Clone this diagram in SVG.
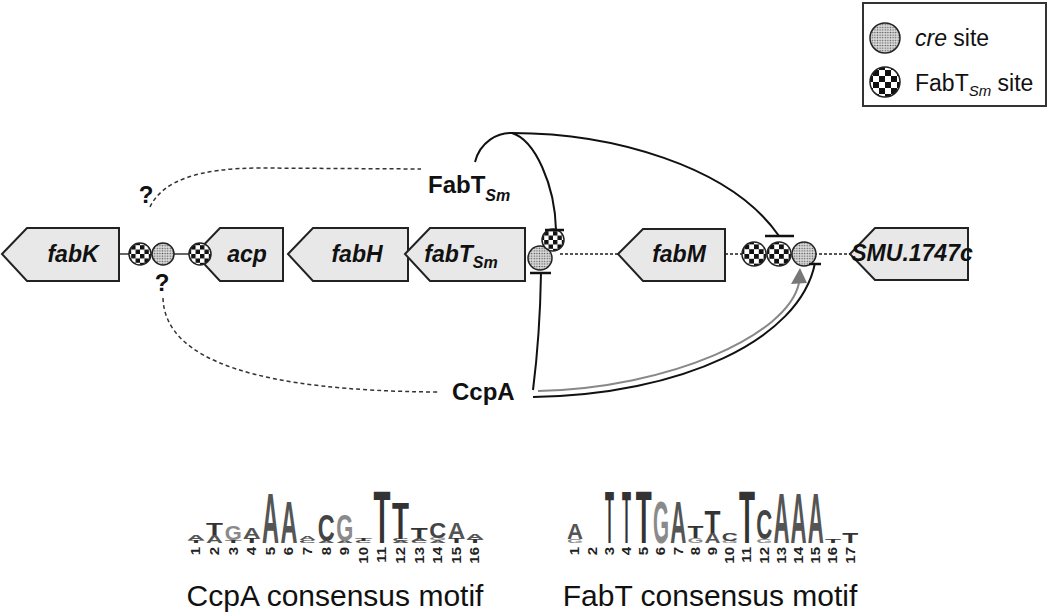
<svg xmlns="http://www.w3.org/2000/svg" width="1050" height="613" viewBox="0 0 1050 613">
<style>
.gene{fill:#e8e8e8;stroke:#222;stroke-width:2}
.gl{font-family:"Liberation Sans",Arial,sans-serif;font-weight:bold;font-style:italic;font-size:23px;fill:#111;text-anchor:middle}
.lab{font-family:"Liberation Sans",Arial,sans-serif;font-weight:bold;font-size:24px;fill:#111}
.leg{font-family:"Liberation Sans",Arial,sans-serif;font-size:23px;fill:#111}
.cap{font-family:"Liberation Sans",Arial,sans-serif;font-size:30px;fill:#111;text-anchor:middle}
.cre{fill:url(#dots);stroke:#222;stroke-width:1.5}
.fbt{fill:url(#chk);stroke:#222;stroke-width:1.5}
.dash{fill:none;stroke:#333;stroke-width:1.5;stroke-dasharray:4 3}
.row{fill:none;stroke:#555;stroke-width:2;stroke-dasharray:3 2}
.blk{fill:none;stroke:#111;stroke-width:2}
.bar{stroke:#111;stroke-width:2.5}
.lg{font-family:"Liberation Sans",Arial,sans-serif;font-weight:bold;font-size:10px;text-anchor:middle}
.A{fill:#555}.C{fill:#444}.G{fill:#8a8a8a}.T{fill:#333}
.num{font-family:"Liberation Sans",Arial,sans-serif;font-weight:bold;font-size:12px;text-anchor:end;fill:#222}
</style>
<defs>
<pattern id="chk" patternUnits="objectBoundingBox" patternContentUnits="objectBoundingBox" x="0.1" y="0.1" width="0.4" height="0.4">
<rect width="0.4" height="0.4" fill="#fff"/>
<rect width="0.2" height="0.2" fill="#111"/>
<rect x="0.2" y="0.2" width="0.2" height="0.2" fill="#111"/>
</pattern>
<pattern id="dots" patternUnits="userSpaceOnUse" width="2.6" height="2.6">
<rect width="2.6" height="2.6" fill="#dcdcdc"/>
<circle cx="1.3" cy="1.3" r="0.75" fill="#555"/>
</pattern>
</defs>

<g id="legend">
<rect x="863" y="3" width="183" height="103" fill="#fff" stroke="#333" stroke-width="2"/>
<circle class="cre" cx="885" cy="38" r="15"/>
<circle class="fbt" cx="885" cy="82" r="15"/>
<text class="leg" x="915" y="46"><tspan font-style="italic">cre</tspan> site</text>
<text class="leg" x="915" y="91">FabT<tspan font-style="italic" font-size="15" dy="5">Sm</tspan><tspan dy="-5"> site</tspan></text>
</g>

<g id="connectors">
<line x1="119" y1="254" x2="200" y2="254" stroke="#333" stroke-width="1.5"/>
<line class="row" x1="560" y1="254" x2="618" y2="254"/>
<line class="row" x1="725" y1="254" x2="745" y2="254"/>
<line class="row" x1="814" y1="254" x2="850" y2="254"/>
<path class="dash" d="M150,207 Q168,168 260,168 L421,169"/>
<path class="dash" d="M163,298 C165,362 262,391 438,392"/>
<path class="blk" d="M475,162 C480,142 498,132 512,133 C535,140 555,185 556,230"/>
<path class="blk" d="M512,133 C610,133 730,165 779,236"/>
<path class="blk" d="M533,390 Q540,335 541,273"/>
<path class="blk" d="M533,397 C680,395 800,340 815,263"/>
<path fill="none" stroke="#888" stroke-width="2" d="M538,391 C670,388 788,335 799,283"/>
<polygon points="800,268 791,284 807,283" fill="#777"/>
</g>

<g id="fabK">
<polygon class="gene" points="2,254 27,228 119,228 119,281 27,281"/>
<text class="gl" x="73" y="262">fabK</text>
</g>
<g id="sites-left">
<circle class="fbt" cx="140" cy="254" r="11"/>
<circle class="cre" cx="163" cy="254" r="11"/>
<text class="lab" x="146" y="203" font-size="17" text-anchor="middle">?</text>
<text class="lab" x="162" y="291" font-size="17" text-anchor="middle">?</text>
</g>
<g id="acp">
<polygon class="gene" points="195,254 220,228 283,228 283,281 220,281"/>
<text class="gl" x="247" y="262">acp</text>
<circle class="fbt" cx="200" cy="254" r="11"/>
</g>
<g id="fabH">
<polygon class="gene" points="288,254 313,228 408,228 408,281 313,281"/>
<text class="gl" x="357" y="262">fabH</text>
</g>
<g id="fabT">
<polygon class="gene" points="405,254 430,228 525,228 525,281 430,281"/>
<text class="gl" x="461" y="262">fabT<tspan font-size="16" dy="6">Sm</tspan></text>
</g>
<g id="sites-fabT">
<circle class="cre" cx="540" cy="258" r="12"/>
<circle class="fbt" cx="553" cy="240" r="11"/>
<line class="bar" x1="545" y1="230" x2="564" y2="230"/>
<line class="bar" x1="530" y1="273" x2="551" y2="273"/>
</g>
<g id="fabM">
<polygon class="gene" points="618,254 643,229 725,229 725,281 643,281"/>
<text class="gl" x="679" y="262">fabM</text>
</g>
<g id="sites-fabM">
<circle class="fbt" cx="754" cy="254" r="12"/>
<circle class="fbt" cx="779" cy="254" r="12"/>
<circle class="cre" cx="804" cy="254" r="12"/>
<line class="bar" x1="765" y1="236" x2="794" y2="236"/>
<line class="bar" x1="809" y1="264" x2="821" y2="264"/>
</g>
<g id="SMU1747c">
<polygon class="gene" points="850,254 875,228 968,228 968,280 875,280"/>
<text class="gl" x="912" y="261" font-size="20">SMU.1747c</text>
</g>

<g id="FabTSm">
<text class="lab" x="428" y="193">FabT<tspan font-style="italic" font-size="16" dy="8">Sm</tspan></text>
</g>
<g id="CcpA">
<text class="lab" x="452" y="400">CcpA</text>
</g>

<g id="ccpa-logo">
<text class="lg T" transform="translate(196,543) scale(2.78,0.42)">T</text>
<text class="lg A" transform="translate(196,540) scale(2.35,0.7)">A</text>
<text class="lg A" transform="translate(214.6,543) scale(2.35,1.12)">A</text>
<text class="lg T" transform="translate(214.6,535) scale(2.78,1.68)">T</text>
<text class="lg T" transform="translate(233.2,543) scale(2.78,0.42)">T</text>
<text class="lg G" transform="translate(233.2,540) scale(2.19,1.96)">G</text>
<text class="lg T" transform="translate(251.8,543) scale(2.78,0.7)">T</text>
<text class="lg A" transform="translate(251.8,538) scale(2.35,1.4)">A</text>
<text class="lg A" transform="translate(270.4,543) scale(2.35,6.98)">A</text>
<text class="lg A" transform="translate(289,543) scale(2.35,6.01)">A</text>
<text class="lg C" transform="translate(307.6,543) scale(2.35,0.42)">C</text>
<text class="lg A" transform="translate(307.6,540) scale(2.35,0.56)">A</text>
<text class="lg A" transform="translate(326.2,543) scale(2.35,0.28)">A</text>
<text class="lg C" transform="translate(326.2,541) scale(2.35,3.77)">C</text>
<text class="lg A" transform="translate(344.8,543) scale(2.35,0.28)">A</text>
<text class="lg G" transform="translate(344.8,541) scale(2.19,3.77)">G</text>
<text class="lg C" transform="translate(363.4,543) scale(2.35,0.28)">C</text>
<text class="lg T" transform="translate(363.4,541) scale(2.78,0.28)">T</text>
<text class="lg T" transform="translate(382,543) scale(2.78,7.4)">T</text>
<text class="lg A" transform="translate(400.6,543) scale(2.35,0.28)">A</text>
<text class="lg C" transform="translate(400.6,541) scale(2.35,0.28)">C</text>
<text class="lg T" transform="translate(400.6,539) scale(2.78,5.17)">T</text>
<text class="lg C" transform="translate(419.2,543) scale(2.35,0.28)">C</text>
<text class="lg A" transform="translate(419.2,541) scale(2.35,0.42)">A</text>
<text class="lg T" transform="translate(419.2,538) scale(2.78,1.54)">T</text>
<text class="lg A" transform="translate(437.8,543) scale(2.35,0.42)">A</text>
<text class="lg G" transform="translate(437.8,540) scale(2.19,0.28)">G</text>
<text class="lg C" transform="translate(437.8,538) scale(2.35,2.23)">C</text>
<text class="lg T" transform="translate(456.4,543) scale(2.78,0.7)">T</text>
<text class="lg A" transform="translate(456.4,538) scale(2.35,2.23)">A</text>
<text class="lg T" transform="translate(475,543) scale(2.78,0.56)">T</text>
<text class="lg A" transform="translate(475,539) scale(2.35,0.7)">A</text>
<text class="num" transform="translate(200.3,547) rotate(-90) scale(1.25,1)">1</text>
<text class="num" transform="translate(218.9,547) rotate(-90) scale(1.25,1)">2</text>
<text class="num" transform="translate(237.5,547) rotate(-90) scale(1.25,1)">3</text>
<text class="num" transform="translate(256.1,547) rotate(-90) scale(1.25,1)">4</text>
<text class="num" transform="translate(274.7,547) rotate(-90) scale(1.25,1)">5</text>
<text class="num" transform="translate(293.3,547) rotate(-90) scale(1.25,1)">6</text>
<text class="num" transform="translate(311.9,547) rotate(-90) scale(1.25,1)">7</text>
<text class="num" transform="translate(330.5,547) rotate(-90) scale(1.25,1)">8</text>
<text class="num" transform="translate(349.1,547) rotate(-90) scale(1.25,1)">9</text>
<text class="num" transform="translate(367.7,547) rotate(-90) scale(1.25,1)">10</text>
<text class="num" transform="translate(386.3,547) rotate(-90) scale(1.25,1)">11</text>
<text class="num" transform="translate(404.9,547) rotate(-90) scale(1.25,1)">12</text>
<text class="num" transform="translate(423.5,547) rotate(-90) scale(1.25,1)">13</text>
<text class="num" transform="translate(442.1,547) rotate(-90) scale(1.25,1)">14</text>
<text class="num" transform="translate(460.7,547) rotate(-90) scale(1.25,1)">15</text>
<text class="num" transform="translate(479.3,547) rotate(-90) scale(1.25,1)">16</text>
<text class="cap" x="335" y="606">CcpA consensus motif</text>
</g>

<g id="fabt-logo">
<text class="lg G" transform="translate(575,543) scale(2.06,0.56)">G</text>
<text class="lg A" transform="translate(575,539) scale(2.22,2.23)">A</text>
<text class="lg T" transform="translate(609.4,543) scale(1.47,7.4)">T</text>
<text class="lg T" transform="translate(626.6,543) scale(1.47,7.4)">T</text>
<text class="lg T" transform="translate(643.8,543) scale(2.62,7.4)">T</text>
<text class="lg G" transform="translate(661,543) scale(2.06,6.01)">G</text>
<text class="lg A" transform="translate(678.2,543) scale(2.22,6.01)">A</text>
<text class="lg G" transform="translate(695.4,543) scale(2.06,0.7)">G</text>
<text class="lg T" transform="translate(695.4,538) scale(2.62,1.68)">T</text>
<text class="lg A" transform="translate(712.6,543) scale(2.22,1.4)">A</text>
<text class="lg T" transform="translate(712.6,533) scale(2.62,3.21)">T</text>
<text class="lg G" transform="translate(729.8,543) scale(2.06,0.28)">G</text>
<text class="lg C" transform="translate(729.8,541) scale(2.22,1.12)">C</text>
<text class="lg T" transform="translate(747,543) scale(2.62,7.4)">T</text>
<text class="lg G" transform="translate(764.2,543) scale(2.06,0.56)">G</text>
<text class="lg C" transform="translate(764.2,539) scale(2.22,4.19)">C</text>
<text class="lg A" transform="translate(781.4,543) scale(2.22,7.12)">A</text>
<text class="lg A" transform="translate(798.6,543) scale(2.22,7.12)">A</text>
<text class="lg A" transform="translate(815.8,543) scale(2.22,7.12)">A</text>
<text class="lg T" transform="translate(833,543) scale(2.62,0.56)">T</text>
<text class="lg T" transform="translate(850.2,543) scale(2.62,1.4)">T</text>
<text class="num" transform="translate(579.3,547) rotate(-90) scale(1.25,1)">1</text>
<text class="num" transform="translate(596.5,547) rotate(-90) scale(1.25,1)">2</text>
<text class="num" transform="translate(613.7,547) rotate(-90) scale(1.25,1)">3</text>
<text class="num" transform="translate(630.9,547) rotate(-90) scale(1.25,1)">4</text>
<text class="num" transform="translate(648.1,547) rotate(-90) scale(1.25,1)">5</text>
<text class="num" transform="translate(665.3,547) rotate(-90) scale(1.25,1)">6</text>
<text class="num" transform="translate(682.5,547) rotate(-90) scale(1.25,1)">7</text>
<text class="num" transform="translate(699.7,547) rotate(-90) scale(1.25,1)">8</text>
<text class="num" transform="translate(716.9,547) rotate(-90) scale(1.25,1)">9</text>
<text class="num" transform="translate(734.1,547) rotate(-90) scale(1.25,1)">10</text>
<text class="num" transform="translate(751.3,547) rotate(-90) scale(1.25,1)">11</text>
<text class="num" transform="translate(768.5,547) rotate(-90) scale(1.25,1)">12</text>
<text class="num" transform="translate(785.7,547) rotate(-90) scale(1.25,1)">13</text>
<text class="num" transform="translate(802.9,547) rotate(-90) scale(1.25,1)">14</text>
<text class="num" transform="translate(820.1,547) rotate(-90) scale(1.25,1)">15</text>
<text class="num" transform="translate(837.3,547) rotate(-90) scale(1.25,1)">16</text>
<text class="num" transform="translate(854.5,547) rotate(-90) scale(1.25,1)">17</text>
<text class="cap" x="710" y="606">FabT consensus motif</text>
</g>
</svg>
